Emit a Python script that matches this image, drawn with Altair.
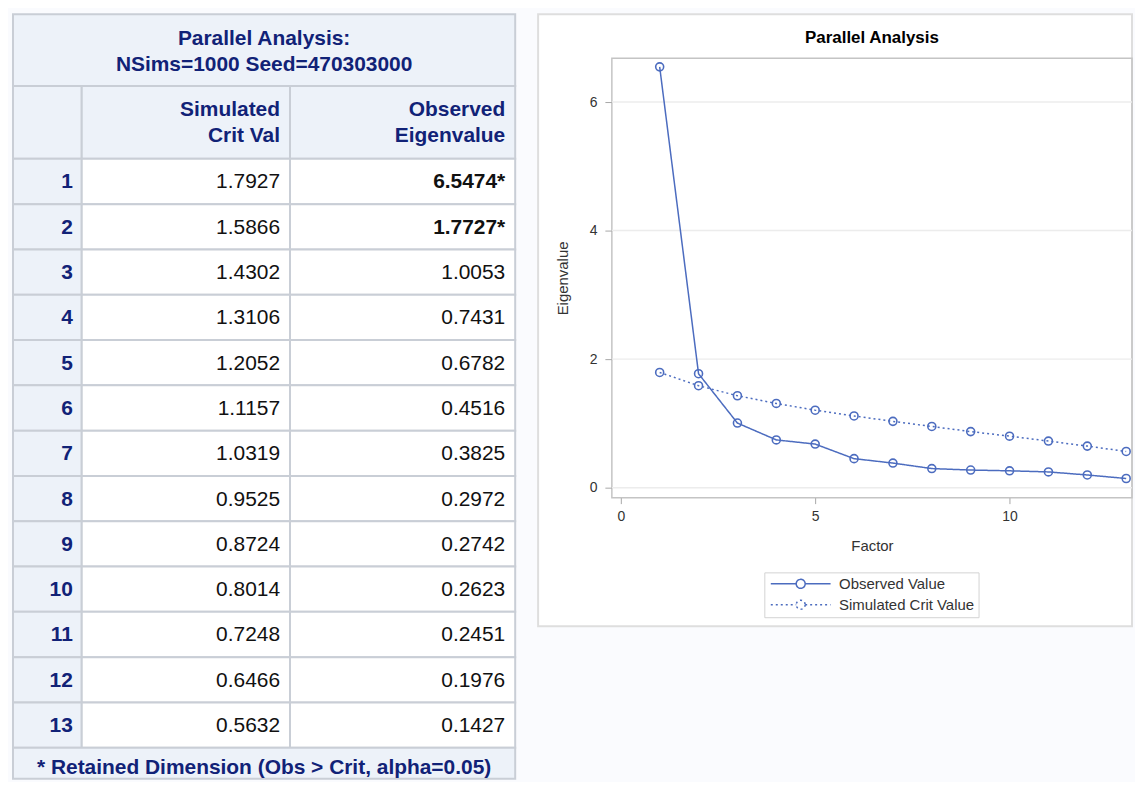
import altair as alt
import pandas as pd

# ---------------- data ----------------
factor = [1, 2, 3, 4, 5, 6, 7, 8, 9, 10, 11, 12, 13]
sim_crit = [1.7927, 1.5866, 1.4302, 1.3106, 1.2052, 1.1157, 1.0319,
            0.9525, 0.8724, 0.8014, 0.7248, 0.6466, 0.5632]
obs_eig = [6.5474, 1.7727, 1.0053, 0.7431, 0.6782, 0.4516, 0.3825,
           0.2972, 0.2742, 0.2623, 0.2451, 0.1976, 0.1427]
retained = [True, True, False, False, False, False, False,
            False, False, False, False, False, False]
row_labels = ["1", "2", "3", "4", "5", "6", "7", "8", "9", "10", "11", "12", "13"]
series_names = ["Observed Value", "Simulated Crit Value"]
y_ticks = [0, 2, 4, 6]
x_ticks = [0, 5, 10]

table_title = "Parallel Analysis:\nNSims=1000 Seed=470303000"
head_sim = "Simulated\nCrit Val"
head_obs = "Observed\nEigenvalue"
footnote = "* Retained Dimension (Obs > Crit, alpha=0.05)"
plot_title = "Parallel Analysis"

# ---------------- style / layout constants ----------------
FONT = "Liberation Sans"
NAVY = "#112277"
HDR = "#edf2f9"
BORDER = "#c9ced6"
BG = "#fafbfe"
LINE = "#4c6cbf"
TXT = "#333333"

COL_EDGES = [0, 69, 278, 504]
TW = COL_EDGES[-1]
TITLE_H, HEAD_H, BODY_H, FOOT_H = 72, 73, 591, 31
ROW_H = BODY_H / len(row_labels)
TH = TITLE_H + HEAD_H + BODY_H + FOOT_H
FS = 21
LH = 26
PADR = 10

W, H = 522, 441
TOP_SPACE = 44


def block_y(center, text):
    # first-line position so that a multi-line block is centred on `center`
    return center - (text.count("\n")) * LH / 2


# ---------------- table (one unit chart, cells via scales) ----------------
cells, texts = [], []
y_head = TITLE_H
y_body = TITLE_H + HEAD_H
y_foot = y_body + BODY_H

cells.append(dict(x0=0, x1=TW, y0=0, y1=TITLE_H, fill=HDR))
texts.append(dict(x=TW / 2, y=block_y(TITLE_H / 2 + 2, table_title), t=table_title, kind="navy_c"))

for c in range(3):
    cells.append(dict(x0=COL_EDGES[c], x1=COL_EDGES[c + 1], y0=y_head, y1=y_body, fill=HDR))
hc = (y_head + y_body) / 2 + 1
texts.append(dict(x=COL_EDGES[2] - PADR, y=block_y(hc, head_sim), t=head_sim, kind="navy_r"))
texts.append(dict(x=COL_EDGES[3] - PADR, y=block_y(hc, head_obs), t=head_obs, kind="navy_r"))

for i, lab in enumerate(row_labels):
    r0 = y_body + i * ROW_H
    r1 = r0 + ROW_H
    ym = (r0 + r1) / 2 + 1
    cells.append(dict(x0=COL_EDGES[0], x1=COL_EDGES[1], y0=r0, y1=r1, fill=HDR))
    cells.append(dict(x0=COL_EDGES[1], x1=COL_EDGES[2], y0=r0, y1=r1, fill="white"))
    cells.append(dict(x0=COL_EDGES[2], x1=COL_EDGES[3], y0=r0, y1=r1, fill="white"))
    texts.append(dict(x=COL_EDGES[1] - 9, y=ym, t=lab, kind="navy_r"))
    texts.append(dict(x=COL_EDGES[2] - PADR, y=ym, t=f"{sim_crit[i]:.4f}", kind="val"))
    texts.append(dict(x=COL_EDGES[3] - PADR, y=ym,
                      t=f"{obs_eig[i]:.4f}" + ("*" if retained[i] else ""),
                      kind="val_b" if retained[i] else "val"))

cells.append(dict(x0=0, x1=TW, y0=y_foot, y1=TH, fill=HDR))
texts.append(dict(x=TW / 2, y=(y_foot + TH) / 2 + 5, t=footnote, kind="navy_c"))

cells_df = pd.DataFrame(cells)
texts_df = pd.DataFrame(texts)

tx = alt.Scale(domain=[0, TW], nice=False, zero=False)
ty = alt.Scale(domain=[0, TH], nice=False, zero=False, reverse=True)

rects = alt.Chart(cells_df).mark_rect(stroke=BORDER, strokeWidth=2).encode(
    x=alt.X("x0:Q", scale=tx, axis=None), x2="x1:Q",
    y=alt.Y("y0:Q", scale=ty, axis=None), y2="y1:Q",
    fill=alt.Fill("fill:N", scale=None),
)


def text_layer(kind, align, weight, color):
    return alt.Chart(texts_df).transform_filter(f"datum.kind == '{kind}'").mark_text(
        font=FONT, fontSize=FS, fontWeight=weight, color=color, align=align,
        baseline="middle", lineBreak="\n", lineHeight=LH,
    ).encode(
        x=alt.X("x:Q", scale=tx, axis=None),
        y=alt.Y("y:Q", scale=ty, axis=None),
        text="t:N",
    )


table = alt.layer(
    rects,
    text_layer("navy_c", "center", "bold", NAVY),
    text_layer("navy_r", "right", "bold", NAVY),
    text_layer("val", "right", "normal", "#111111"),
    text_layer("val_b", "right", "bold", "#111111"),
).properties(width=TW, height=TH)

# ---------------- plot ----------------
long = pd.DataFrame({
    "factor": factor + factor,
    "value": obs_eig + sim_crit,
    "series": [series_names[0]] * len(factor) + [series_names[1]] * len(factor),
})
grid_df = pd.DataFrame({"g": y_ticks})

yaxis = alt.Axis(values=y_ticks, title="Eigenvalue", grid=False, domain=False,
                 tickSize=7, tickColor="#a8a8a8", labelPadding=8,
                 labelFont=FONT, labelFontSize=14, labelColor=TXT,
                 titleFont=FONT, titleFontSize=15, titleFontWeight="normal",
                 titleColor=TXT, titlePadding=19)
xaxis = alt.Axis(values=x_ticks, title="Factor", grid=False, domain=False,
                 tickSize=6, tickColor="#a8a8a8", labelPadding=6,
                 labelFont=FONT, labelFontSize=14, labelColor=TXT,
                 titleFont=FONT, titleFontSize=15, titleFontWeight="normal",
                 titleColor=TXT, titlePadding=15)
yscale = alt.Scale(domain=[-0.155, 6.682], nice=False, zero=False)
xscale = alt.Scale(domain=[-0.23, 13.15], nice=False, zero=False)

sym_path = ("M-1,0L4.1,0M5.9,0L11,0M5.9,0A0.9,0.9,0,1,1,4.1,0"
            "A0.9,0.9,0,1,1,5.9,0")
leg = alt.Legend(title=None, orient="none", legendX=153, legendY=H + 75,
                 direction="vertical", symbolType=sym_path, symbolSize=100,
                 symbolStrokeWidth=1.5, symbolFillColor="transparent",
                 labelFont=FONT, labelFontSize=15, labelColor=TXT,
                 labelOffset=56, fillColor="white", strokeColor="#d3d3d3",
                 padding=4, rowPadding=5)

grid = alt.Chart(grid_df).mark_rule(color="#ececec", strokeWidth=1.5).encode(
    y=alt.Y("g:Q", scale=yscale, axis=yaxis))

lines = alt.Chart(long).mark_line(strokeWidth=1.5).encode(
    x=alt.X("factor:Q", scale=xscale, axis=xaxis),
    y=alt.Y("value:Q", scale=yscale, axis=yaxis),
    color=alt.Color("series:N", scale=alt.Scale(domain=series_names, range=[LINE, LINE]), legend=leg),
    strokeDash=alt.StrokeDash("series:N", scale=alt.Scale(domain=series_names, range=[[1, 0], [2, 3]]),
                              legend=leg),
)

points = alt.Chart(long).mark_point(shape="circle", filled=False, size=64, strokeWidth=1.6,
                                    color=LINE, opacity=1).encode(
    x=alt.X("factor:Q", scale=xscale, axis=xaxis),
    y=alt.Y("value:Q", scale=yscale, axis=yaxis),
)

plot = alt.layer(grid, lines, points).properties(
    width=W, height=H,
    view=alt.ViewBackground(stroke="#c4c4c4", strokeWidth=1.5),
    title=alt.TitleParams(plot_title, font=FONT, fontSize=17, fontWeight="bold", color="black",
                          anchor="middle", frame="group", offset=11),
)

# white panel behind the plot (drawn by a spacer cell above the plot)
panel = alt.Chart(alt.Data(values=[{"k": 0}])).mark_rect(
    fill="white", stroke="#dedede", strokeWidth=2
).encode(
    x=alt.value(-74), x2=alt.value(W), y=alt.value(0), y2=alt.value(TOP_SPACE + H + 129)
).properties(width=W, height=TOP_SPACE)

right = alt.vconcat(panel, plot, spacing=0, bounds="flush").resolve_scale(
    color="independent", strokeDash="independent"
).resolve_legend(color="independent", strokeDash="independent")

chart = alt.hconcat(table, right, spacing=19).resolve_scale(
    x="independent", y="independent", color="independent", strokeDash="independent"
).resolve_legend(
    color="independent", strokeDash="independent"
).properties(
    padding={"left": 3, "top": 3, "right": 0, "bottom": 0},
    background=BG,
).configure_view(stroke="transparent")

chart.save("out.html", embed_options={"renderer": "svg", "actions": False})
